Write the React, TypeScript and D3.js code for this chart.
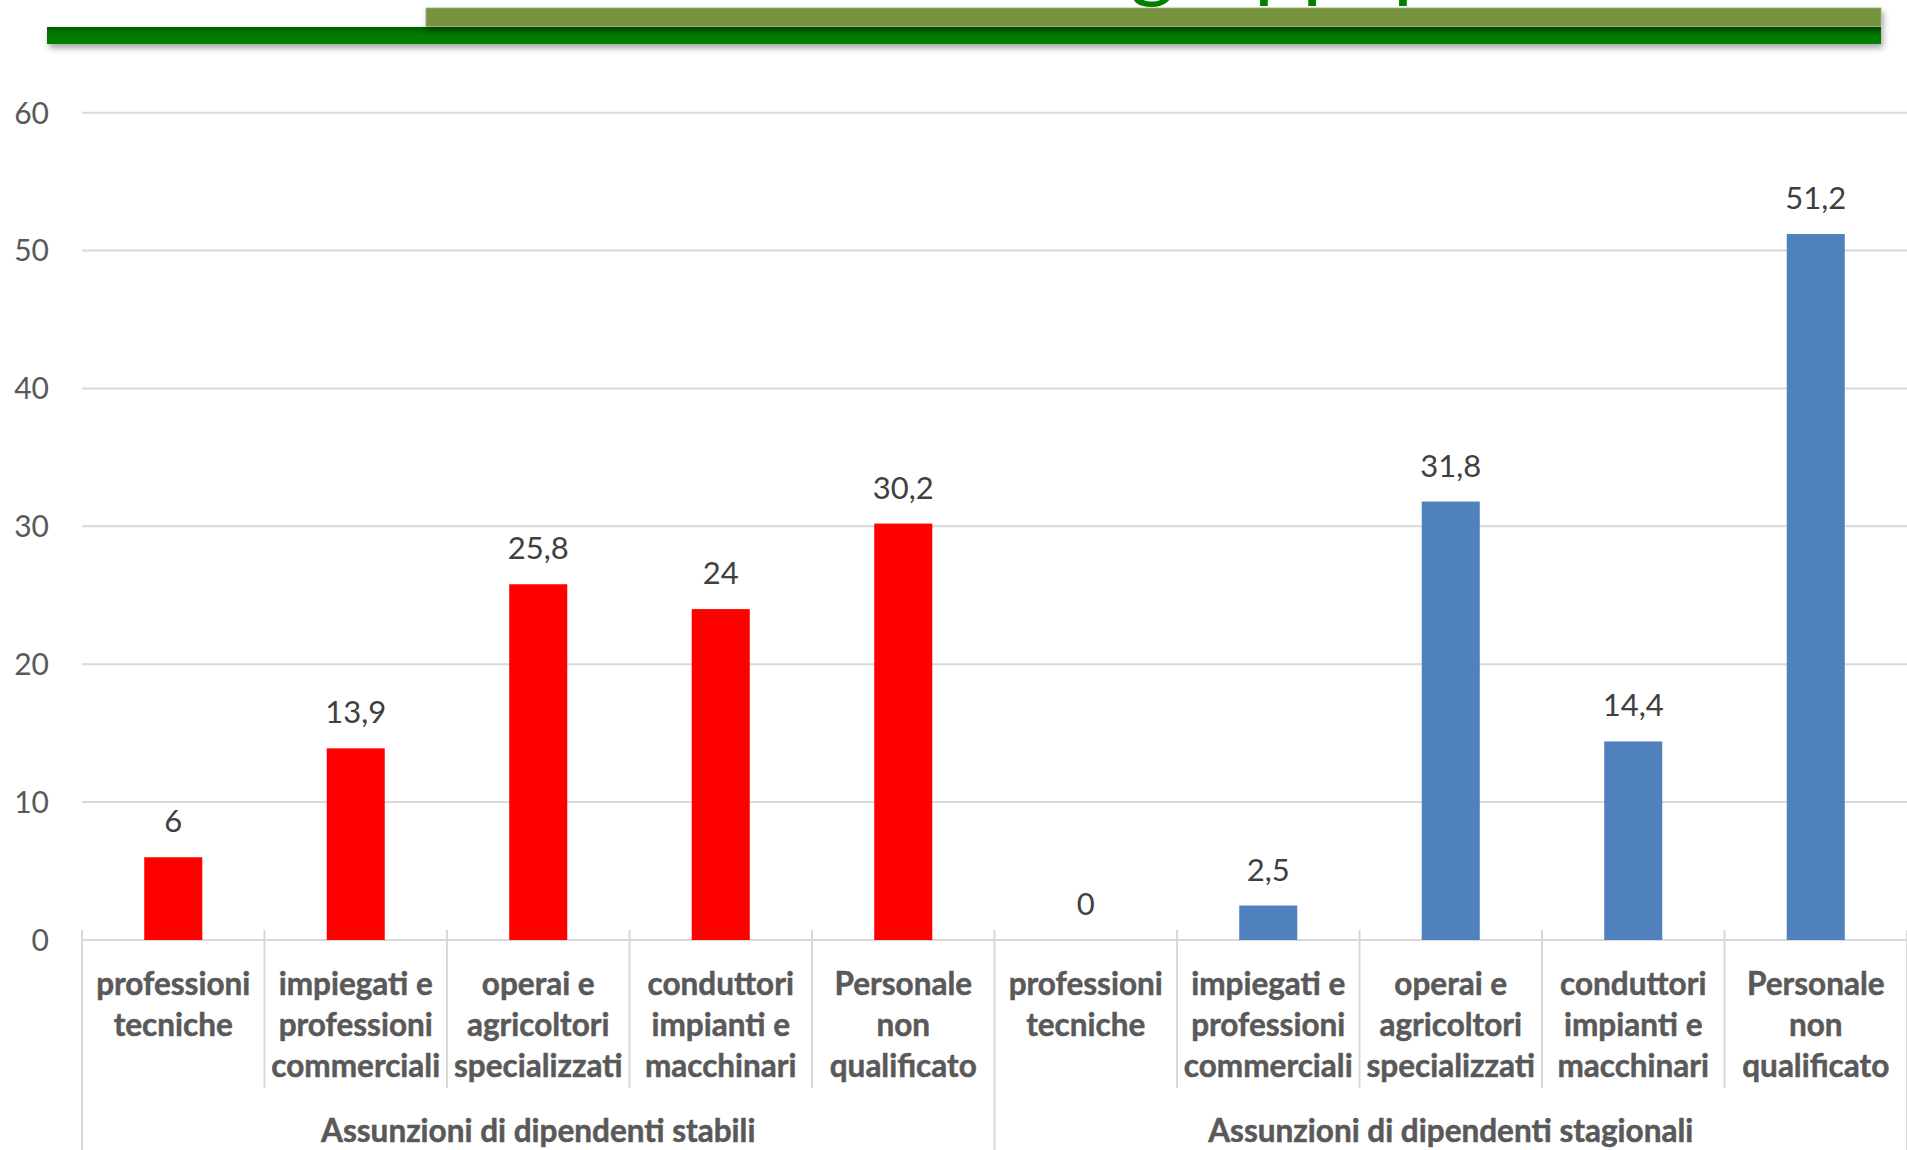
import React from "react";
import * as d3 from "d3";

const categoryLabels: string[][] = [
  ["professioni", "tecniche"],
  ["impiegati e", "professioni", "commerciali"],
  ["operai e", "agricoltori", "specializzati"],
  ["conduttori", "impianti e", "macchinari"],
  ["Personale", "non", "qualificato"],
];
const groupLabels = ["Assunzioni di dipendenti stabili", "Assunzioni di dipendenti stagionali"];
const stabiliValues = [6, 13.9, 25.8, 24, 30.2];
const stagionaliValues = [0, 2.5, 31.8, 14.4, 51.2];
const groupColors = ["#FF0000", "#4F81BD"];
const yTickValues = [0, 10, 20, 30, 40, 50, 60];
const titleLead = "Distribuzione delle assunzioni tra i ";
const titleTail = "gruppi professionali";

const W = 1907;
const H = 1150;
const FONT = "Lato, 'Open Sans', sans-serif";

export default function App() {
  const plotLeft = 82;
  const plotRight = 1907;
  const yTop = 112.7;
  const yBottom = 940;

  const rows = groupLabels.flatMap((g, gi) =>
    categoryLabels.map((lines, ci) => ({
      key: `${gi}-${ci}`,
      group: gi,
      lines,
      value: gi === 0 ? stabiliValues[ci] : stagionaliValues[ci],
    }))
  );

  const x = d3
    .scaleBand<string>()
    .domain(rows.map((r) => r.key))
    .range([plotLeft, plotRight])
    .paddingInner(0)
    .paddingOuter(0);
  const y = d3.scaleLinear().domain([0, 60]).range([yBottom, yTop]);
  const bw = x.bandwidth();
  const barW = bw * 0.318;
  const fmt = (v: number) => String(v).replace(".", ",");

  const groupBounds = groupLabels.map((_, gi) => {
    const keys = rows.filter((r) => r.group === gi).map((r) => r.key);
    const x0 = x(keys[0]) as number;
    const x1 = (x(keys[keys.length - 1]) as number) + bw;
    return { x0, x1 };
  });

  const separators = rows.map((r, i) => ({
    x: x(r.key) as number,
    outer: i % categoryLabels.length === 0,
  }));
  separators.push({ x: plotRight, outer: true });

  return (
    <svg
      width={W}
      height={H}
      style={{ position: "absolute", left: 0, top: 0, background: "#fff" }}
      fontFamily={FONT}
    >
      <defs>
        <filter id="shadow" x="-5%" y="-100%" width="110%" height="400%">
          <feDropShadow dx="2" dy="4" stdDeviation="3" floodColor="#000" floodOpacity="0.35" />
        </filter>
        <linearGradient id="greenGrad" x1="0" y1="0" x2="0" y2="1">
          <stop offset="0" stopColor="#005f00" />
          <stop offset="0.45" stopColor="#007a00" />
          <stop offset="1" stopColor="#008000" />
        </linearGradient>
      </defs>

      {/* header */}
      <text x={1130} y={-9} fontSize={86} fill="#008000" textAnchor="end">
        {titleLead}
      </text>
      <text x={1130} y={-9} fontSize={86} fill="#008000" textAnchor="start">
        {titleTail}
      </text>
      <rect x={47} y={27} width={1881 - 47} height={17} fill="url(#greenGrad)" filter="url(#shadow)" />
      <rect x={426} y={8} width={1881 - 426} height={18.5} fill="#77933C" stroke="#9fb07a" strokeWidth={0.8} filter="url(#shadow)" />

      {/* gridlines */}
      {yTickValues.map((t) => (
        <g key={t}>
          <line x1={plotLeft} x2={plotRight} y1={y(t)} y2={y(t)} stroke="#D9D9D9" strokeWidth={2} />
          <text
            x={49}
            y={y(t)}
            dy="0.36em"
            textAnchor="end"
            fontSize={30}
            fill="#595959"
          >
            {t}
          </text>
        </g>
      ))}

      {/* separators */}
      {separators.map((s, i) => (
        <line
          key={i}
          x1={s.x}
          x2={s.x}
          y1={yBottom - 10}
          y2={s.outer ? H : 1088}
          stroke="#D9D9D9"
          strokeWidth={2}
        />
      ))}

      {/* bars */}
      {rows.map((r) => {
        const cx = (x(r.key) as number) + bw / 2;
        return (
          <g key={r.key}>
            {r.value > 0 && (
              <rect
                x={cx - barW / 2}
                y={y(r.value)}
                width={barW}
                height={yBottom - y(r.value)}
                fill={groupColors[r.group]}
              />
            )}
            <text
              x={cx}
              y={y(r.value) - 25}
              textAnchor="middle"
              fontSize={31}
              fill="#404040"
            >
              {fmt(r.value)}
            </text>
            {r.lines.map((ln, li) => (
              <text
                key={li}
                x={cx}
                y={995 + li * 41}
                textAnchor="middle"
                fontSize={31.5}
                fontWeight={700}
                fill="#595959"
                stroke="#595959"
                strokeWidth={0.5}
              >
                {ln}
              </text>
            ))}
          </g>
        );
      })}

      {/* group labels */}
      {groupLabels.map((g, gi) => (
        <text
          key={g}
          x={(groupBounds[gi].x0 + groupBounds[gi].x1) / 2}
          y={1142}
          textAnchor="middle"
          fontSize={31.5}
          fontWeight={700}
          fill="#595959"
          stroke="#595959"
          strokeWidth={0.5}
        >
          {g}
        </text>
      ))}
    </svg>
  );
}
